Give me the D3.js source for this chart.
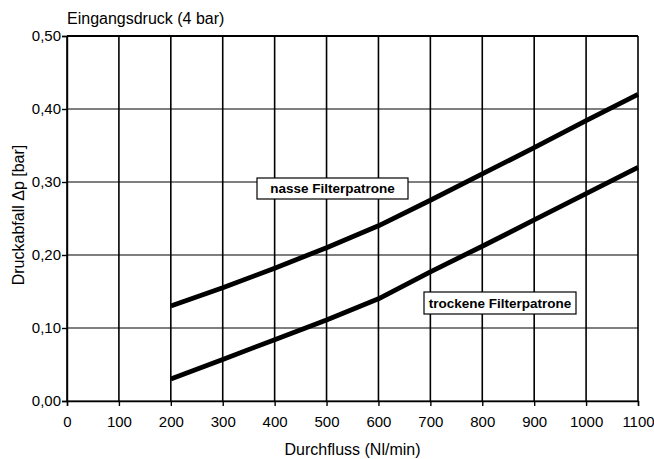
<!DOCTYPE html>
<html><head><meta charset="utf-8">
<script src="https://cdn.jsdelivr.net/npm/d3@7"></script>
<style>body{margin:0;background:#fff;} svg{display:block;font-family:"Liberation Sans",Arial,sans-serif;}</style>
</head><body>
<script>
const flow = [200, 300, 400, 500, 600, 700, 800, 900, 1000, 1100];
const nasse = [0.13, 0.155, 0.182, 0.21, 0.24, 0.275, 0.311, 0.347, 0.384, 0.42];
const trockene = [0.03, 0.057, 0.084, 0.111, 0.14, 0.177, 0.212, 0.248, 0.284, 0.32];
const xTicks = [0,100,200,300,400,500,600,700,800,900,1000,1100];
const yTicks = [0,0.1,0.2,0.3,0.4,0.5];
const labels = ["nasse Filterpatrone", "trockene Filterpatrone"];

const W=654,H=459;
const m={l:67,r:16,t:36,b:58};
const svg=d3.select("body").append("svg").attr("width",W).attr("height",H);
const x=d3.scaleLinear().domain([0,1100]).range([m.l,W-m.r]);
const y=d3.scaleLinear().domain([0,0.5]).range([H-m.b,m.t]);

const g=svg.append("g");
g.selectAll(".vg").data(xTicks).join("line").attr("x1",d=>x(d)).attr("x2",d=>x(d)).attr("y1",y(0)).attr("y2",y(0.5)).attr("stroke","#000").attr("stroke-width",1.6);
g.selectAll(".hg").data(yTicks).join("line").attr("x1",x(0)).attr("x2",x(1100)).attr("y1",d=>y(d)).attr("y2",d=>y(d)).attr("stroke","#000").attr("stroke-width",1.2);
g.append("line").attr("x1",x(0)).attr("x2",x(1100)).attr("y1",y(0.5)).attr("y2",y(0.5)).attr("stroke","#000").attr("stroke-width",2.2);

const fmt=d=>d3.format(".2f")(d).replace(".",",");
const ya=d3.axisLeft(y).tickValues(yTicks).tickFormat(fmt).tickSize(5).tickPadding(1);
const xa=d3.axisBottom(x).tickValues(xTicks).tickFormat(d=>d).tickSize(5).tickPadding(10);
const gy=svg.append("g").attr("transform",`translate(${x(0)},0)`).call(ya);
const gx=svg.append("g").attr("transform",`translate(0,${y(0)})`).call(xa);
[gy,gx].forEach(a=>{a.select(".domain").attr("stroke","#000").attr("stroke-width",1.4);a.selectAll(".tick line").attr("stroke","#000").attr("stroke-width",1.4);a.selectAll("text").attr("font-size",15).attr("fill","#000").attr("font-family","Liberation Sans,Arial,sans-serif");});

const line=d3.line().x((d,i)=>x(flow[i])).y(d=>y(d));
[nasse,trockene].forEach(s=>svg.append("path").attr("d",line(s)).attr("fill","none").attr("stroke","#000").attr("stroke-width",4.8).attr("stroke-linejoin","round"));

const boxes=[{t:labels[0],x0:257,y0:178,w:151,h:21},{t:labels[1],x0:424,y0:292,w:152,h:22}];
boxes.forEach(b=>{
  svg.append("rect").attr("x",b.x0).attr("y",b.y0).attr("width",b.w).attr("height",b.h).attr("fill","#fff").attr("stroke","#000").attr("stroke-width",1.2);
  svg.append("text").attr("x",b.x0+b.w/2).attr("y",b.y0+b.h/2+4.5).attr("text-anchor","middle").attr("font-size",13.5).attr("font-weight","bold").text(b.t);
});

svg.append("text").attr("x",67).attr("y",23.5).attr("font-size",16).text("Eingangsdruck (4 bar)");
svg.append("text").attr("x",(x(0)+x(1100))/2).attr("y",455).attr("text-anchor","middle").attr("font-size",16).text("Durchfluss (Nl/min)");
svg.append("text").attr("transform",`translate(24,215) rotate(-90)`).attr("text-anchor","middle").attr("font-size",16).text("Druckabfall Δp [bar]");
</script>
</body></html>
